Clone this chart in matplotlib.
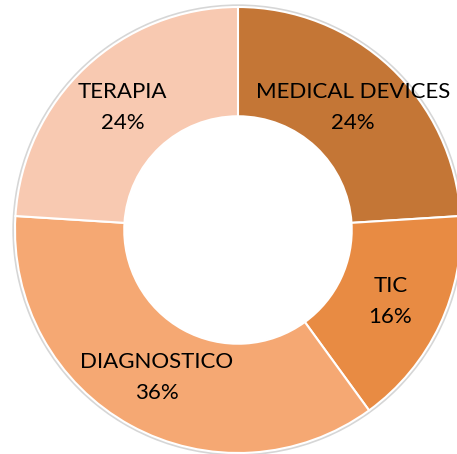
import matplotlib.pyplot as plt

categories = ["MEDICAL DEVICES", "TIC", "DIAGNOSTICO", "TERAPIA"]
shares = [24, 16, 36, 24]
colors = ["#C47636", "#E88B43", "#F5A873", "#F8C9B1"]

plt.rcParams["font.family"] = ["Lato", "DejaVu Sans"]

fig = plt.figure(figsize=(4.57, 4.54), dpi=100)
# square axes holding the donut, centred a bit right of the figure centre
ax = fig.add_axes([0.0328, 0.0022, 446 / 457, 446 / 454])

# faint soft shadow round the outer edge
ax.pie([1], colors=["#d6d6d6"], radius=1.012,
       wedgeprops=dict(width=0.05, linewidth=0))

wedges, texts, autotexts = ax.pie(
    shares,
    colors=colors,
    startangle=90,
    counterclock=False,
    radius=1.0,
    autopct="%1.0f%%",
    pctdistance=0.755,
    wedgeprops=dict(width=0.49, edgecolor="white", linewidth=1.5),
    textprops=dict(fontsize=16, color="black"),
)

for at, lab in zip(autotexts, categories):
    at.set_text(f"{lab}\n{at.get_text()}")
    at.set_linespacing(1.68)
    at.set_ha("center")
    at.set_va("center")

ax.set_xlim(-1, 1)
ax.set_ylim(-1, 1)
ax.set_aspect("equal")
ax.axis("off")

fig.savefig("out.png", dpi=100, facecolor="white")
